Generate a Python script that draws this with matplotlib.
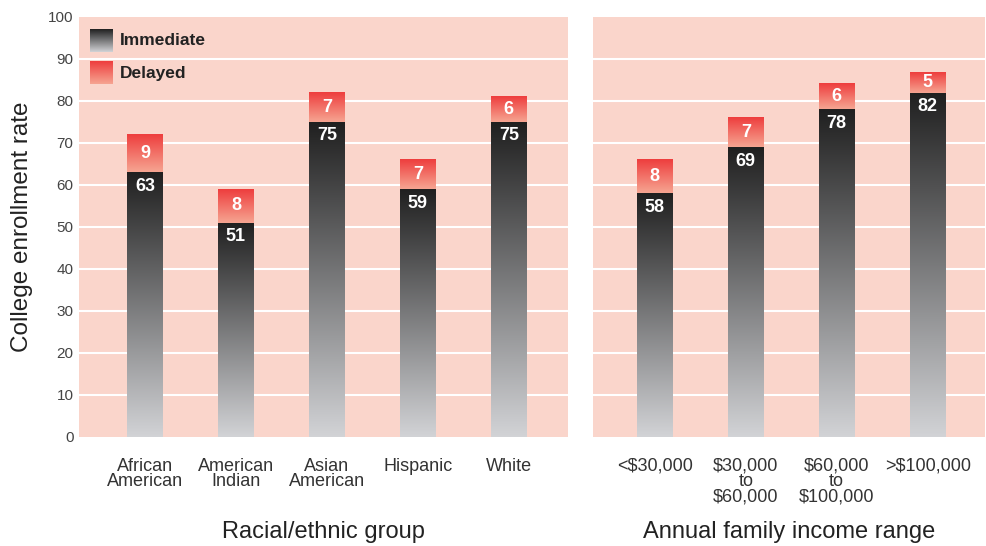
import matplotlib
matplotlib.use("Agg")
import matplotlib.pyplot as plt
import numpy as np
from matplotlib.colors import LinearSegmentedColormap

plt.rcParams['font.family'] = ['Liberation Sans', 'DejaVu Sans']

race_groups = ["African\nAmerican", "American\nIndian", "Asian\nAmerican", "Hispanic", "White"]
race_immediate = [63, 51, 75, 59, 75]
race_delayed = [9, 8, 7, 7, 6]

income_groups = ["<\\$30,000", "\\$30,000\nto\n\\$60,000", "\\$60,000\nto\n\\$100,000", ">\\$100,000"]
income_immediate = [58, 69, 78, 82]
income_delayed = [8, 7, 6, 5]

yticks = [0, 10, 20, 30, 40, 50, 60, 70, 80, 90, 100]

bg = "#fad5cb"
gray_cmap = LinearSegmentedColormap.from_list("g", ["#d2d3d6", "#202020"])
red_cmap = LinearSegmentedColormap.from_list("r", ["#f6a592", "#ee3d3d"])
grad = np.linspace(0, 1, 256).reshape(-1, 1)

fig = plt.figure(figsize=(9.86, 5.46), dpi=100)
ax1 = fig.add_axes([79/986, 1-437/546, 489/986, 420/546])
ax2 = fig.add_axes([593/986, 1-437/546, 392/986, 420/546])

width = 0.385

def draw(ax, cats, imm, dly, xlim, xlabel):
    ax.set_facecolor(bg)
    for s in ax.spines.values():
        s.set_visible(False)
    for y in yticks[1:-1]:
        ax.axhline(y, color="white", lw=1.5, zorder=1)
    x = np.arange(len(cats))
    ax.bar(x, imm, width=width, color="none", zorder=2)
    ax.bar(x, dly, bottom=imm, width=width, color="none", zorder=2)
    for xi, i, d in zip(x, imm, dly):
        ax.imshow(grad, cmap=gray_cmap, origin="lower", aspect="auto",
                  extent=[xi - width/2, xi + width/2, 0, i], zorder=3)
        ax.imshow(grad, cmap=red_cmap, origin="lower", aspect="auto",
                  extent=[xi - width/2, xi + width/2, i, i + d], zorder=3)
        ax.text(xi, i - 3.3, str(i), ha="center", va="center", color="white",
                fontsize=13, fontweight="bold", zorder=4)
        ax.text(xi, i + d/2, str(d), ha="center", va="center", color="white",
                fontsize=13, fontweight="bold", zorder=4)
    ax.set_xlim(*xlim)
    ax.set_ylim(0, 100)
    ax.set_xticks(x)
    ax.set_xticklabels(cats, fontsize=13, color="#333333", linespacing=0.88)
    ax.tick_params(axis="x", length=0, pad=15)
    ax.set_xlabel(xlabel, fontsize=17, color="#222222", va="center")
    ax.xaxis.set_label_coords(0.5, -0.226)

draw(ax1, race_groups, race_immediate, race_delayed, (-0.725, 4.65), "Racial/ethnic group")
draw(ax2, income_groups, income_immediate, income_delayed, (-0.68, 3.63), "Annual family income range")

ax1.set_yticks(yticks)
ax1.set_yticklabels([str(t) for t in yticks], fontsize=11, color="#444444")
ax1.tick_params(axis="y", length=0, pad=4)
ax1.set_ylabel("College enrollment rate", fontsize=17.5, color="#222222", va="center")
ax1.yaxis.set_label_coords(-57/489, 0.5)
ax2.set_yticks(yticks)
ax2.set_yticklabels([])
ax2.tick_params(axis="y", length=0)

# legend with gradient swatches
for (y0, y1, cmap, label) in [(91.7, 97.1, gray_cmap, "Immediate"), (84.0, 89.3, red_cmap, "Delayed")]:
    ax1.imshow(grad, cmap=cmap, origin="lower", aspect="auto",
               extent=[-0.604, -0.352, y0, y1], zorder=3)
    ax1.text(-0.274, (y0 + y1) / 2, label, ha="left", va="center", fontsize=12.5,
             fontweight="bold", color="#222222", zorder=4)

ax1.set_xlim(-0.725, 4.65)
ax1.set_ylim(0, 100)
ax2.set_xlim(-0.68, 3.63)
ax2.set_ylim(0, 100)

fig.savefig("out.png", dpi=100, facecolor="white")
